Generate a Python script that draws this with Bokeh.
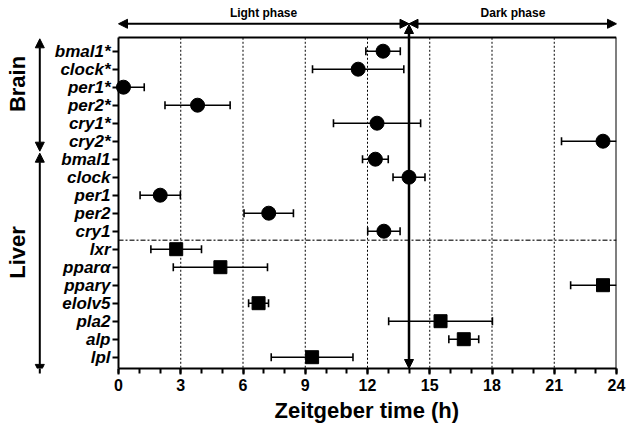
import math
from bokeh.plotting import figure
from bokeh.models import (Range1d, FixedTicker, Arrow, NormalHead, Label,
                          LinearAxis, Title)
from bokeh.embed import file_html
from bokeh.resources import INLINE

# ---------------- data ----------------
genes = ["bmal1*", "clock*", "per1*", "per2*", "cry1*", "cry2*",
         "bmal1", "clock", "per1", "per2", "cry1",
         "lxr", "pparα", "pparγ", "elolv5", "pla2", "alp", "lpl"]
acrophase = [12.75, 11.55, 0.24, 3.81, 12.46, 23.35,
             12.38, 14.0, 2.01, 7.24, 12.79,
             2.78, 4.91, 23.35, 6.75, 15.52, 16.64, 9.33]
sem = [0.83, 2.2, 1.0, 1.57, 2.1, 2.0,
       0.62, 0.77, 0.97, 1.19, 0.78,
       1.22, 2.27, 1.56, 0.48, 2.5, 0.72, 1.97]
n_clock_genes = 11
x_ticks = [0, 3, 6, 9, 12, 15, 18, 21, 24]
grid_hours = [3, 6, 9, 12, 15, 18, 21]
light_dark_boundary = 14
clock_gene_block_end = 10.5
x_title = "Zeitgeber time (h)"

# ---------------- geometry (layout only) ----------------
X0, X1 = 0, 24                 # time axis span
Y_TOP, Y_BOT = -0.744, 17.628  # plot box span (rows 0..17, top to bottom)
FONT = "Liberation Sans"

rows = list(range(len(genes)))
lower = [a - s for a, s in zip(acrophase, sem)]
upper = [a + s for a, s in zip(acrophase, sem)]

p = figure(width=627, height=430, output_backend="svg", toolbar_location=None,
           x_range=Range1d(-5.687, X1), y_range=Range1d(Y_BOT, -2.816),
           x_axis_location=None, y_axis_location=None,
           min_border_left=0, min_border_right=11, min_border_top=0,
           min_border_bottom=62)
p.background_fill_color = "white"
p.border_fill_color = "white"
p.outline_line_color = None
p.xgrid.visible = False
p.ygrid.visible = False

# ---------- axes ----------
xa = LinearAxis(bounds=(X0, X1))
xa.ticker = FixedTicker(ticks=x_ticks, minor_ticks=list(range(0, 25)))
xa.major_label_text_font = FONT
xa.major_label_text_font_style = "bold"
xa.major_label_text_font_size = "16px"
xa.major_label_text_color = "black"
xa.major_label_standoff = 4
xa.axis_line_width = 2
xa.major_tick_line_width = 2
xa.minor_tick_line_width = 2
xa.major_tick_out = 6
xa.major_tick_in = 0
xa.minor_tick_out = 5
xa.minor_tick_in = 0
p.add_layout(xa, "below")

# x-axis title, placed so that it sits centred under the 0-24 h axis
p.add_layout(Title(text=x_title, align="left", offset=274, text_font=FONT,
                   text_font_style="bold", text_font_size="22px", text_color="black",
                   standoff=4), "below")

ya = LinearAxis(fixed_location=X0, bounds=(Y_TOP, Y_BOT))
ya.ticker = FixedTicker(ticks=rows, minor_ticks=[])
ya.major_label_overrides = {i: g for i, g in enumerate(genes)}
ya.major_label_text_font = FONT
ya.major_label_text_font_style = "bold italic"
ya.major_label_text_font_size = "17px"
ya.major_label_text_color = "black"
ya.major_label_standoff = 2
ya.axis_line_width = 2
ya.major_tick_line_width = 2
ya.major_tick_out = 6
ya.major_tick_in = 0
ya.minor_tick_out = 0
p.add_layout(ya, "left")

def border_axis(loc, bounds):
    ax = LinearAxis(fixed_location=loc, bounds=bounds)
    ax.ticker = FixedTicker(ticks=[], minor_ticks=[])
    ax.major_tick_out = 0
    ax.major_tick_in = 0
    ax.minor_tick_out = 0
    ax.minor_tick_in = 0
    ax.major_label_text_font_size = "0px"
    ax.axis_line_width = 2
    ax.axis_line_color = "black"
    return ax

p.add_layout(border_axis(Y_TOP, (X0, X1)), "above")
p.add_layout(border_axis(X1, (Y_TOP, Y_BOT)), "right")

# ---------- grid & separator ----------
p.segment(x0=grid_hours, y0=[Y_TOP] * len(grid_hours), x1=grid_hours,
          y1=[Y_BOT] * len(grid_hours), line_color="black", line_width=1,
          line_dash="2 2")
p.segment(x0=[X0], y0=[clock_gene_block_end], x1=[X1], y1=[clock_gene_block_end],
          line_color="#444444", line_width=1.6, line_dash="5 2 2 2")

# ---------- error bars (clipped to the box) ----------
lo_vis = [max(v, X0) for v in lower]
hi_vis = [min(v, X1) for v in upper]
p.segment(x0=lo_vis, y0=rows, x1=hi_vis, y1=rows, line_color="black", line_width=1.6)
cap_lo = [(v, r) for v, r in zip(lower, rows) if v >= X0]
cap_hi = [(v, r) for v, r in zip(upper, rows) if v <= X1]
p.scatter(x=[c[0] for c in cap_lo], y=[c[1] for c in cap_lo], marker="dash",
          angle=math.pi / 2, size=8, line_color="black", line_width=1.6)
p.scatter(x=[c[0] for c in cap_hi], y=[c[1] for c in cap_hi], marker="dash",
          angle=math.pi / 2, size=8, line_color="black", line_width=1.6)

# ---------- arrows ----------
def head():
    return NormalHead(size=9, fill_color="black", line_color="black", line_width=1)

top_y = -1.522
p.add_layout(Arrow(x_start=X0, y_start=top_y, x_end=light_dark_boundary, y_end=top_y,
                   start=head(), end=head(), line_width=2, line_color="black"))
p.add_layout(Arrow(x_start=light_dark_boundary, y_start=top_y, x_end=X1, y_end=top_y,
                   start=head(), end=head(), line_width=2, line_color="black"))
p.add_layout(Arrow(x_start=light_dark_boundary, y_start=-1.483, x_end=light_dark_boundary,
                   y_end=Y_BOT, start=head(), end=head(), line_width=2.5, line_color="black"))

arrow_x = -3.793
p.add_layout(Arrow(x_start=arrow_x, y_start=-0.688, x_end=arrow_x, y_end=5.556,
                   start=head(), end=head(), line_width=2, line_color="black"))
p.add_layout(Arrow(x_start=arrow_x, y_start=5.667, x_end=arrow_x, y_end=17.9,
                   start=head(), end=head(), line_width=2, line_color="black"))

# ---------- points ----------
p.scatter(x=acrophase[:n_clock_genes], y=rows[:n_clock_genes], marker="circle", size=14,
          fill_color="black", line_color="black")
p.scatter(x=acrophase[n_clock_genes:], y=rows[n_clock_genes:], marker="square", size=13,
          fill_color="black", line_color="black")

# ---------- texts ----------
for txt, x, y in [("Light phase", 6.99, -2.122), ("Dark phase", 19.01, -2.122)]:
    p.add_layout(Label(x=x, y=y, text=txt, text_font=FONT, text_font_style="bold",
                       text_font_size="12px", text_align="center", text_baseline="middle",
                       text_color="black"))
for txt, y in [("Brain", 1.823), ("Liver", 11.184)]:
    p.add_layout(Label(x=-4.89, y=y, text=txt, text_font=FONT, text_font_style="bold",
                       text_font_size="22px", text_align="center", text_baseline="middle",
                       angle=math.pi / 2, text_color="black"))

open("out.html", "w").write(file_html(p, INLINE))
